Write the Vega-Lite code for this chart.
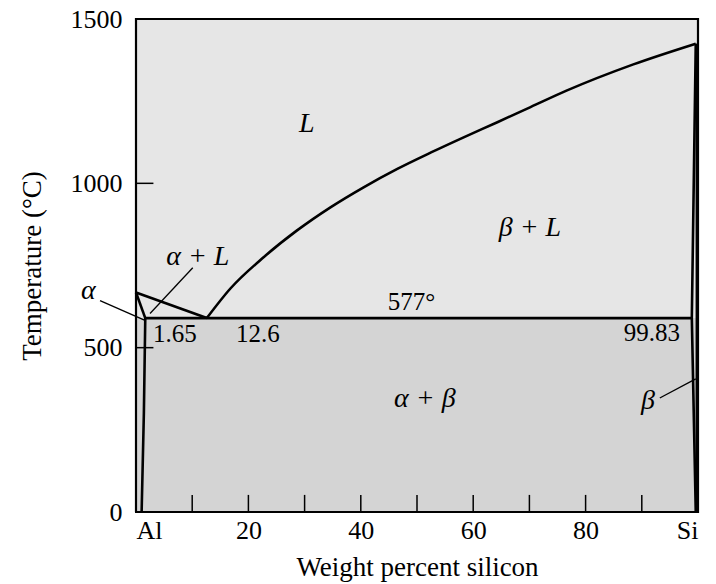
{
  "$schema": "https://vega.github.io/schema/vega-lite/v6.json",
  "width": 562,
  "height": 493,
  "autosize": "none",
  "padding": {"left": 136, "top": 19, "right": 18, "bottom": 72},
  "background": "white",
  "config": {
    "font": "Liberation Serif",
    "view": {"stroke": "black", "strokeWidth": 2, "fill": "#e6e6e6"},
    "axis": {"domain": false, "grid": false, "ticks": false, "labelColor": "black", "titleColor": "black", "labelFont": "Liberation Serif", "titleFont": "Liberation Serif", "titleFontWeight": "normal"}
  },
  "datasets": {
    "regions": [{"x": 0, "x2": 100, "t": 0, "t2": 590}],
    "xticks": [
      {"x": 10, "t": 0, "t2": 52}, {"x": 20, "t": 0, "t2": 52}, {"x": 30, "t": 0, "t2": 52},
      {"x": 40, "t": 0, "t2": 52}, {"x": 50, "t": 0, "t2": 52}, {"x": 60, "t": 0, "t2": 52},
      {"x": 70, "t": 0, "t2": 52}, {"x": 80, "t": 0, "t2": 52}, {"x": 90, "t": 0, "t2": 52}
    ],
    "yticks": [
      {"x": 0, "x2": 3.1, "t": 500}, {"x": 0, "x2": 3.1, "t": 1000}
    ],
    "frame": [
      {"o": 1, "x": 0, "t": 0},
      {"o": 2, "x": 0, "t": 1500},
      {"o": 3, "x": 100, "t": 1500},
      {"o": 4, "x": 100, "t": 0},
      {"o": 5, "x": 0, "t": 0}
    ],
    "liquidus": [
      {"x": 12.6, "t": 590},
      {"x": 16.8, "t": 680},
      {"x": 22.7, "t": 775},
      {"x": 28.6, "t": 856},
      {"x": 34.6, "t": 927},
      {"x": 40.5, "t": 988},
      {"x": 46.5, "t": 1044},
      {"x": 52.5, "t": 1094},
      {"x": 58.3, "t": 1140},
      {"x": 64.3, "t": 1186},
      {"x": 70.2, "t": 1232},
      {"x": 76.6, "t": 1282},
      {"x": 88.5, "t": 1362},
      {"x": 99.6, "t": 1425}
    ],
    "lines": [
      {"seg": "alpha_solidus", "kind": "phase", "o": 1, "x": 0, "t": 668},
      {"seg": "alpha_solidus", "kind": "phase", "o": 2, "x": 1.65, "t": 590},
      {"seg": "alpha_solvus", "kind": "phase", "o": 1, "x": 1.65, "t": 590},
      {"seg": "alpha_solvus", "kind": "phase", "o": 2, "x": 1.4, "t": 300},
      {"seg": "alpha_solvus", "kind": "phase", "o": 3, "x": 1.0, "t": 0},
      {"seg": "liquidus_al", "kind": "phase", "o": 1, "x": 0, "t": 668},
      {"seg": "liquidus_al", "kind": "phase", "o": 2, "x": 12.6, "t": 590},
      {"seg": "eutectic", "kind": "phase", "o": 1, "x": 1.65, "t": 590},
      {"seg": "eutectic", "kind": "phase", "o": 2, "x": 98.9, "t": 590},
      {"seg": "beta", "kind": "phase", "o": 1, "x": 99.6, "t": 1425},
      {"seg": "beta", "kind": "phase", "o": 2, "x": 98.9, "t": 590},
      {"seg": "beta", "kind": "phase", "o": 3, "x": 99.6, "t": 0},
      {"seg": "si", "kind": "phase", "o": 1, "x": 99.8, "t": 0},
      {"seg": "si", "kind": "phase", "o": 2, "x": 99.8, "t": 1425},
      {"seg": "lead_alpha", "kind": "leader", "o": 1, "x": -6.4, "t": 643},
      {"seg": "lead_alpha", "kind": "leader", "o": 2, "x": 1.6, "t": 583},
      {"seg": "lead_alphaL", "kind": "leader", "o": 1, "x": 10.1, "t": 743},
      {"seg": "lead_alphaL", "kind": "leader", "o": 2, "x": 2.5, "t": 604},
      {"seg": "lead_beta", "kind": "leader", "o": 1, "x": 93.2, "t": 347},
      {"seg": "lead_beta", "kind": "leader", "o": 2, "x": 99.6, "t": 405}
    ],
    "italic": [
      {"x": 30.4, "t": 1182, "label": "L"},
      {"x": 70.1, "t": 865, "label": "β + L"},
      {"x": 11.0, "t": 775, "label": "α + L"},
      {"x": -8.5, "t": 671, "label": "α"},
      {"x": 51.4, "t": 345, "label": "α + β"},
      {"x": 91.1, "t": 339, "label": "β"}
    ],
    "numbers": [
      {"x": 49.0, "t": 640, "label": "577°"},
      {"x": 6.9, "t": 543, "label": "1.65"},
      {"x": 21.7, "t": 543, "label": "12.6"},
      {"x": 91.8, "t": 546, "label": "99.83"}
    ]
  },
  "layer": [
    {
      "data": {"name": "regions"},
      "mark": {"type": "rect", "color": "#d4d4d4"},
      "encoding": {
        "x": {"field": "x", "type": "quantitative", "scale": {"domain": [0, 100], "nice": false, "zero": false},
          "axis": {"title": "Weight percent silicon", "titleFontSize": 27, "titlePadding": 11, "labelFontSize": 26, "labelPadding": 5,
            "values": [0, 20, 40, 60, 80, 100],
            "labelExpr": "datum.value == 0 ? 'Al' : datum.value == 100 ? 'Si' : datum.label"}},
        "x2": {"field": "x2"},
        "y": {"field": "t", "type": "quantitative", "scale": {"domain": [0, 1500], "nice": false},
          "axis": {"title": "Temperature (°C)", "titleFontSize": 27, "titlePadding": 24, "labelFontSize": 26, "labelPadding": 14, "format": "d",
            "values": [0, 500, 1000, 1500]}},
        "y2": {"field": "t2"}
      }
    },
    {
      "data": {"name": "xticks"},
      "mark": {"type": "rule", "color": "black", "strokeWidth": 1.5},
      "encoding": {
        "x": {"field": "x", "type": "quantitative"},
        "y": {"field": "t", "type": "quantitative"},
        "y2": {"field": "t2"}
      }
    },
    {
      "data": {"name": "yticks"},
      "mark": {"type": "rule", "color": "black", "strokeWidth": 1.5},
      "encoding": {
        "x": {"field": "x", "type": "quantitative"},
        "x2": {"field": "x2"},
        "y": {"field": "t", "type": "quantitative"}
      }
    },
    {
      "data": {"name": "frame"},
      "mark": {"type": "line", "color": "black", "strokeWidth": 2.2, "strokeJoin": "miter"},
      "encoding": {
        "x": {"field": "x", "type": "quantitative"},
        "y": {"field": "t", "type": "quantitative"},
        "order": {"field": "o"}
      }
    },
    {
      "data": {"name": "liquidus"},
      "mark": {"type": "line", "color": "black", "strokeWidth": 2.6, "interpolate": "monotone"},
      "encoding": {
        "x": {"field": "x", "type": "quantitative"},
        "y": {"field": "t", "type": "quantitative"}
      }
    },
    {
      "data": {"name": "lines"},
      "transform": [{"filter": "datum.kind == 'phase'"}],
      "mark": {"type": "line", "color": "black", "strokeWidth": 2.6, "strokeJoin": "miter"},
      "encoding": {
        "x": {"field": "x", "type": "quantitative"},
        "y": {"field": "t", "type": "quantitative"},
        "detail": {"field": "seg"},
        "order": {"field": "o"}
      }
    },
    {
      "data": {"name": "lines"},
      "transform": [{"filter": "datum.kind == 'leader'"}],
      "mark": {"type": "line", "color": "black", "strokeWidth": 1.3},
      "encoding": {
        "x": {"field": "x", "type": "quantitative"},
        "y": {"field": "t", "type": "quantitative"},
        "detail": {"field": "seg"},
        "order": {"field": "o"}
      }
    },
    {
      "data": {"name": "italic"},
      "mark": {"type": "text", "font": "Liberation Serif", "fontStyle": "italic", "fontSize": 28, "color": "black", "baseline": "middle", "align": "center"},
      "encoding": {
        "x": {"field": "x", "type": "quantitative"},
        "y": {"field": "t", "type": "quantitative"},
        "text": {"field": "label"}
      }
    },
    {
      "data": {"name": "numbers"},
      "mark": {"type": "text", "font": "Liberation Serif", "fontSize": 25, "color": "black", "baseline": "middle", "align": "center"},
      "encoding": {
        "x": {"field": "x", "type": "quantitative"},
        "y": {"field": "t", "type": "quantitative"},
        "text": {"field": "label"}
      }
    }
  ]
}
